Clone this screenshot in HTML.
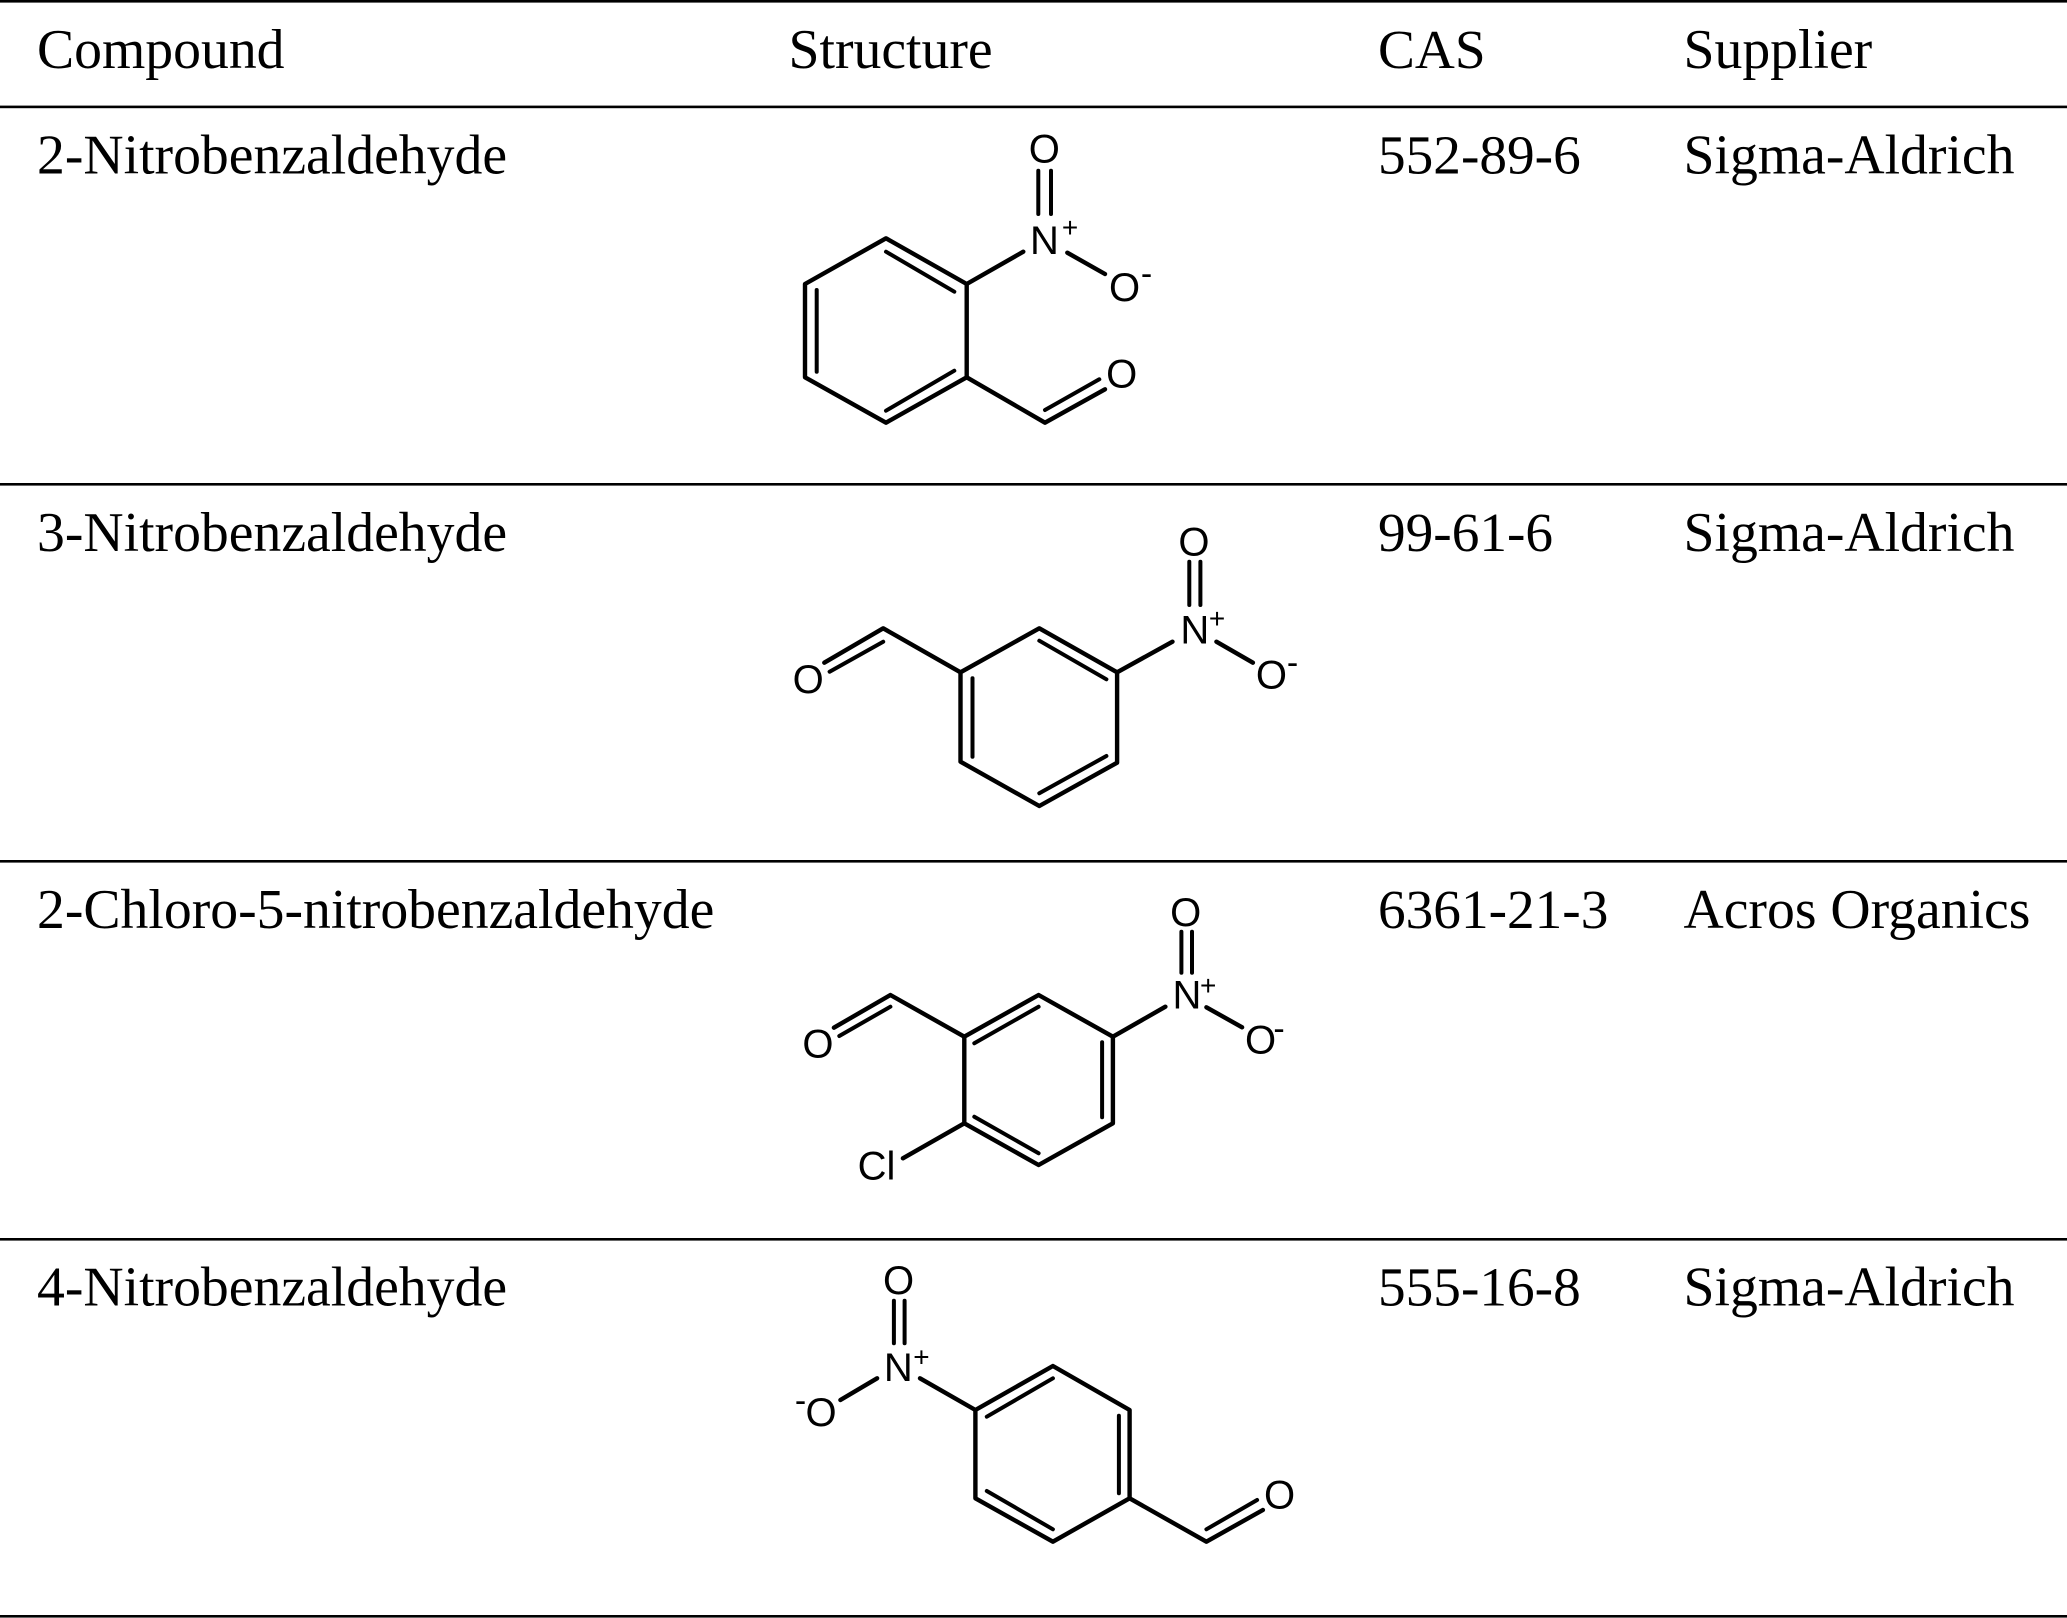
<!DOCTYPE html>
<html>
<head>
<meta charset="utf-8">
<style>
html,body{margin:0;padding:0;background:#fff;width:2067px;height:1618px;overflow:hidden}
svg{display:block}
.t{font-family:"Liberation Serif",serif;font-size:55.7px;fill:#000}
.c{font-family:"Liberation Serif",serif;font-size:55.3px;fill:#000}
.a{font-family:"Liberation Sans",sans-serif;font-size:40px;fill:#000;text-anchor:middle}
.s{font-family:"Liberation Sans",sans-serif;font-size:28px;fill:#000;text-anchor:middle}
.m{font-family:"Liberation Sans",sans-serif;font-size:34px;fill:#000;text-anchor:middle}
.r{fill:none;stroke:#000;stroke-width:4.4;stroke-linejoin:round;stroke-linecap:round}
.b{fill:none;stroke:#000;stroke-width:4;stroke-linecap:round}
</style>
</head>
<body>
<svg xmlns="http://www.w3.org/2000/svg" width="2067" height="1618" viewBox="0 0 2067 1618">
<rect width="2067" height="1618" fill="#fff"/>
<g fill="#000">
<rect x="0" y="0" width="2067" height="2.6"/>
<rect x="0" y="105.6" width="2067" height="2.6"/>
<rect x="0" y="483" width="2067" height="2.6"/>
<rect x="0" y="860" width="2067" height="2.6"/>
<rect x="0" y="1238" width="2067" height="2.6"/>
<rect x="0" y="1615" width="2067" height="2.6"/>
</g>

<text class="t" x="37" y="68">Compound</text>
<text class="t" x="788.5" y="68">Structure</text>
<text class="c" x="1378" y="68">CAS</text>
<text class="t" x="1683.5" y="68">Supplier</text>

<text class="t" x="37" y="173.4">2-Nitrobenzaldehyde</text>
<text class="c" x="1378" y="173.4">552-89-6</text>
<text class="t" x="1683.5" y="173.4">Sigma-Aldrich</text>

<text class="t" x="37" y="551">3-Nitrobenzaldehyde</text>
<text class="c" x="1378" y="551">99-61-6</text>
<text class="t" x="1683.5" y="551">Sigma-Aldrich</text>

<text class="t" x="37" y="928">2-Chloro-5-nitrobenzaldehyde</text>
<text class="c" x="1378" y="928">6361-21-3</text>
<text class="t" x="1683.5" y="928">Acros Organics</text>

<text class="t" x="37" y="1305.4">4-Nitrobenzaldehyde</text>
<text class="c" x="1378" y="1305.4">555-16-8</text>
<text class="t" x="1683.5" y="1305.4">Sigma-Aldrich</text>

<!-- 2-Nitrobenzaldehyde -->
<polygon class="r" points="886,238.3 966.7,284 966.7,377.3 886,422.7 805,377.3 805,284"/>
<path class="b" d="M886 251.7L954.3 291.7M816.7 290V371.7M886 410.7L954.3 370.7"/>
<path class="r" d="M966.7 284L1023.3 251.7M1067.3 252.7L1105 274M966.7 377.3L1045 422.7L1105 389.3"/>
<path class="b" d="M1045 410L1099.3 379.3M1038.3 170.7V214M1051 170.7V214"/>
<text class="a" x="1044.5" y="254.2">N</text>
<text class="s" x="1070" y="237">+</text>
<text class="a" x="1044.3" y="162.3">O</text>
<text class="a" x="1124.5" y="300.8">O</text>
<text class="m" x="1146.5" y="285">-</text>
<text class="a" x="1121.7" y="387.5">O</text>

<!-- 3-Nitrobenzaldehyde -->
<polygon class="r" points="1039.3,628.3 1117.1,672.3 1117.1,762.7 1039.3,806 960.5,761.7 960.5,672.3"/>
<path class="b" d="M1039.3 640.7L1106.4 679.3M1039.3 793.3L1106.4 756M972.5 678.3V756.7"/>
<path class="r" d="M960.5 672.3L883.2 628.3L824.3 662.7M1117.1 672.3L1172.5 641.7M1216.4 641.7L1252.9 662.7"/>
<path class="b" d="M883.2 641.7L829.6 671.7M1189.3 561.7V605M1200.4 561.7V605"/>
<text class="a" x="1194.8" y="643.5">N</text>
<text class="s" x="1217" y="628">+</text>
<text class="a" x="1193.9" y="555.5">O</text>
<text class="a" x="1271.4" y="688.5">O</text>
<text class="m" x="1292.5" y="674">-</text>
<text class="a" x="808.2" y="693.2">O</text>

<!-- 2-Chloro-5-nitrobenzaldehyde -->
<polygon class="r" points="1038.6,995 1112.9,1036.7 1112.9,1123.3 1038.6,1165 964.3,1123.3 964.3,1036.7"/>
<path class="b" d="M974.3 1043.3L1038.6 1006.7M1102.1 1042.3V1117.3M974.3 1116.7L1038.6 1153.3"/>
<path class="r" d="M964.3 1036.7L890.4 995L833.9 1027.7M964.3 1123.3L902.9 1158.3M1112.9 1036.7L1165.4 1006.7M1206.4 1007.3L1242.1 1027.3"/>
<path class="b" d="M890.4 1006.7L839.3 1036M1181.4 931.7V972.7M1192 931.7V972.7"/>
<text class="a" x="1187" y="1008.5">N</text>
<text class="s" x="1208.2" y="994.8">+</text>
<text class="a" x="1185.7" y="925.9">O</text>
<text class="a" x="1260.5" y="1053.5">O</text>
<text class="m" x="1279" y="1039.8">-</text>
<text class="a" x="817.9" y="1057.5">O</text>
<text class="a" x="876.5" y="1179.3">Cl</text>

<!-- 4-Nitrobenzaldehyde -->
<polygon class="r" points="1052.9,1366 1129.6,1410 1129.6,1498.3 1052.9,1541.7 975.4,1498.3 975.4,1410"/>
<path class="b" d="M986.8 1416.7L1052.9 1378.3M1118.9 1415.7V1493.3M986.8 1491L1052.9 1529.3"/>
<path class="r" d="M1129.6 1498.3L1206.4 1541.7L1262.9 1510M975.4 1410L920 1378.3M877.1 1378.3L840.4 1400"/>
<path class="b" d="M1206.4 1529.3L1257.1 1500M893.9 1300.7V1343.3M904.6 1300.7V1343.3"/>
<text class="a" x="898.3" y="1380.9">N</text>
<text class="s" x="921.4" y="1366.5">+</text>
<text class="a" x="898.6" y="1294.2">O</text>
<text class="a" x="821" y="1425.9">O</text>
<text class="m" x="800.5" y="1411.8">-</text>
<text class="a" x="1279.6" y="1508.5">O</text>
</svg>
</body>
</html>
